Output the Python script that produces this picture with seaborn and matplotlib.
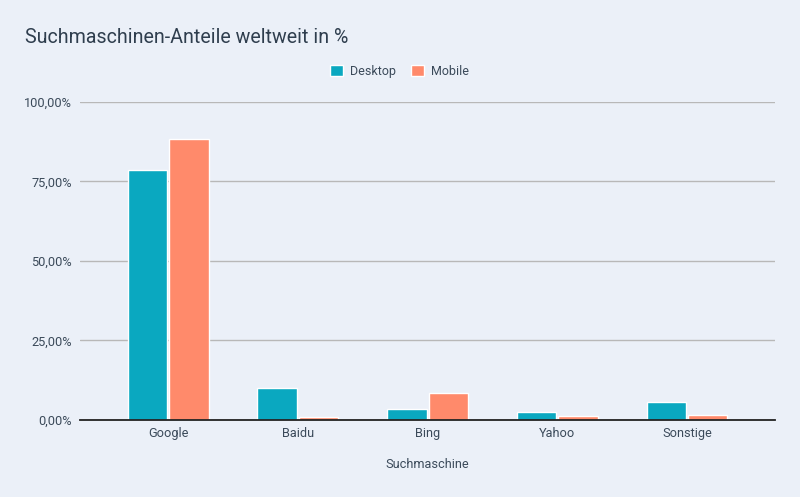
import pandas as pd
import matplotlib.pyplot as plt
import seaborn as sns

engines = ['Google', 'Baidu', 'Bing', 'Yahoo', 'Sonstige']
desktop = [78.5, 9.9, 3.6, 2.4, 5.8]
mobile = [88.2, 0.8, 8.6, 1.1, 1.7]
yticks = [0, 25, 50, 75, 100]

bg = '#ebf0f8'
text_col = '#3b4a5a'

df = pd.DataFrame({'Suchmaschine': engines * 2,
                   'Anteil': desktop + mobile,
                   'Gerät': ['Desktop'] * len(engines) + ['Mobile'] * len(engines)})

sns.set_theme(style='white')
plt.rcParams['font.family'] = ['Roboto', 'DejaVu Sans']

fig = plt.figure(figsize=(8, 4.97), dpi=100, facecolor=bg)
ax = fig.add_axes([0.1, 0.155, 0.869, 0.64])
ax.set_facecolor(bg)

sns.barplot(data=df, x='Suchmaschine', y='Anteil', hue='Gerät',
            palette=['#0aa8c0', '#ff8a6b'], width=0.64, gap=0.05,
            saturation=1, ax=ax, legend=True)

ax.set_ylim(0, 100)
ax.set_xlim(-0.68, 4.68)
ax.set_yticks(yticks)
ax.set_yticklabels([f'{v:.2f}'.replace('.', ',') + '%' for v in yticks])
ax.yaxis.grid(True, color='#b8b8b8', linewidth=1)
ax.set_axisbelow(True)
for s in ['top', 'right', 'left']:
    ax.spines[s].set_visible(False)
ax.spines['bottom'].set_color('#222222')
ax.spines['bottom'].set_linewidth(1.3)
ax.tick_params(axis='both', length=0, labelsize=9.2, labelcolor=text_col)
ax.tick_params(axis='x', pad=5)
ax.tick_params(axis='y', pad=6)
ax.set_xlabel('Suchmaschine', fontsize=9.2, color=text_col, labelpad=13)
ax.set_ylabel('')

ax.legend(loc='lower center', bbox_to_anchor=(0.46, 1.04), ncol=2, frameon=False,
          fontsize=9, labelcolor=text_col, handlelength=1, handleheight=1,
          columnspacing=1.2, handletextpad=0.6)

fig.text(0.031, 0.925, 'Suchmaschinen-Anteile weltweit in %', fontsize=14.1,
         color='#2f3e4e', va='center', ha='left')

fig.savefig('out.png', dpi=100, facecolor=bg)
